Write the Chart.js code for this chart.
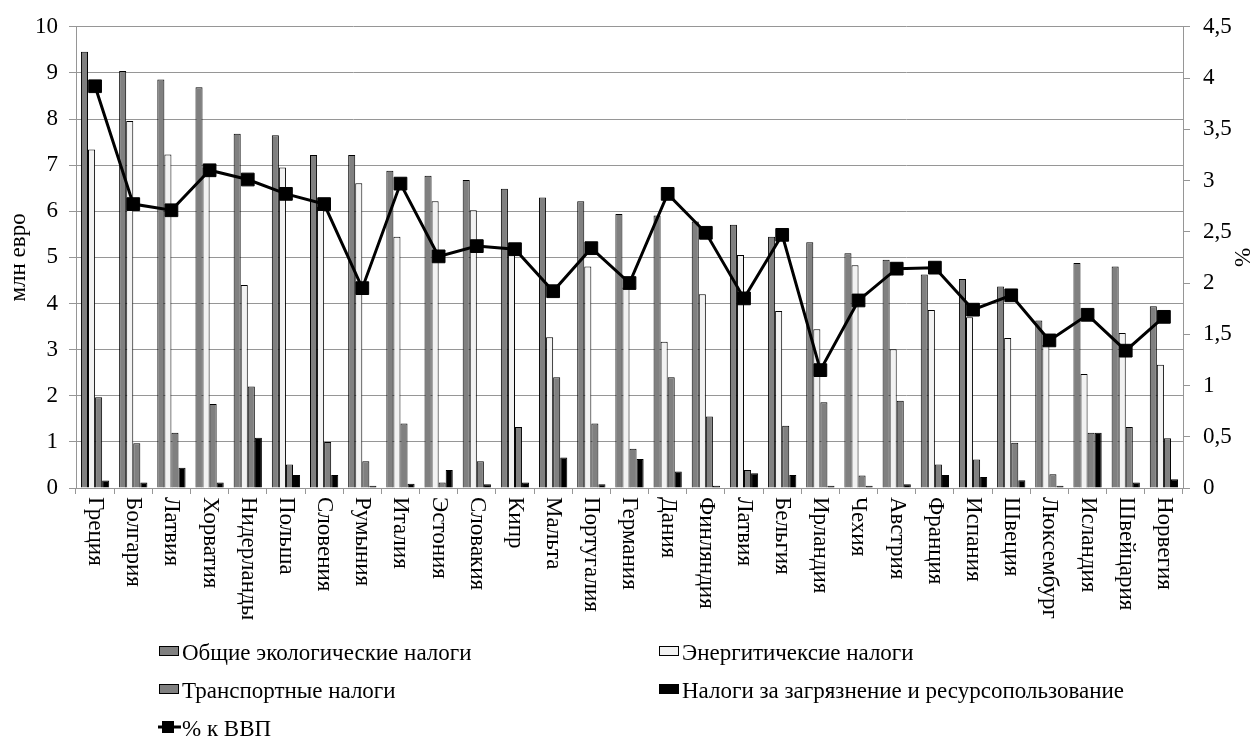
<!DOCTYPE html>
<html>
<head>
<meta charset="utf-8">
<script src="https://cdn.jsdelivr.net/npm/chart.js@4"></script>
<style>
  html, body { margin: 0; padding: 0; background: #fff; }
  #wrap { width: 1253px; height: 745px; }
</style>
</head>
<body>
<div id="wrap"><canvas id="c" width="1253" height="745"></canvas></div>
<script>
// Экологические налоги по странам (млн евро) и их доля к ВВП (%)
const countries = ['Греция', 'Болгария', 'Латвия', 'Хорватия', 'Нидерланды', 'Польша', 'Словения',
  'Румыния', 'Италия', 'Эстония', 'Словакия', 'Кипр', 'Мальта', 'Португалия', 'Германия', 'Дания',
  'Финляндия', 'Латвия', 'Бельгия', 'Ирландия', 'Чехия', 'Австрия', 'Франция', 'Испания', 'Швеция',
  'Люксембург', 'Исландия', 'Швейцария', 'Норвегия'];

const generalTaxes = [9.46, 9.04, 8.86, 8.69, 7.68, 7.65, 7.22, 7.22, 6.88, 6.77, 6.68, 6.49, 6.30, 6.22,
  5.94, 5.91, 5.78, 5.71, 5.45, 5.33, 5.09, 4.95, 4.63, 4.53, 4.37, 3.63, 4.88, 4.80, 3.94];
const energyTaxes = [7.34, 7.96, 7.23, 6.95, 4.40, 6.95, 6.10, 6.61, 5.45, 6.22, 6.02, 5.25, 3.27, 4.80,
  4.35, 3.17, 4.20, 5.05, 3.84, 3.44, 4.83, 3.01, 3.86, 3.70, 3.25, 3.10, 2.47, 3.36, 2.67];
const transportTaxes = [1.97, 0.97, 1.20, 1.82, 2.20, 0.51, 1.00, 0.58, 1.40, 0.12, 0.58, 1.32, 2.40, 1.40,
  0.85, 2.40, 1.55, 0.39, 1.35, 1.86, 0.27, 1.89, 0.51, 0.62, 0.98, 0.30, 1.20, 1.32, 1.08];
const pollutionTaxes = [0.16, 0.12, 0.44, 0.12, 1.09, 0.28, 0.28, 0.05, 0.09, 0.39, 0.08, 0.12, 0.66, 0.08,
  0.63, 0.36, 0.05, 0.32, 0.28, 0.05, 0.05, 0.08, 0.28, 0.24, 0.17, 0.05, 1.20, 0.12, 0.19];
const gdpShare = [3.92, 2.77, 2.71, 3.10, 3.01, 2.87, 2.77, 1.95, 2.97, 2.26, 2.36, 2.33, 1.92, 2.34,
  2.00, 2.87, 2.49, 1.85, 2.47, 1.15, 1.83, 2.14, 2.15, 1.74, 1.88, 1.44, 1.69, 1.34, 1.67];

const leftTicks = ['0', '1', '2', '3', '4', '5', '6', '7', '8', '9', '10'];
const rightTicks = ['0', '0,5', '1', '1,5', '2', '2,5', '3', '3,5', '4', '4,5'];

const FONT = 'Liberation Serif, Times New Roman, serif';
const GRID = '#969696';
const TEXT_SIZE = 23;

// Подписи категорий (повёрнуты по часовой стрелке) и легенда в нижней части
const extrasPlugin = {
  id: 'extras',
  afterDraw(chart) {
    const ctx = chart.ctx;
    const xs = chart.scales.x;
    ctx.save();
    ctx.fillStyle = '#000';
    ctx.font = TEXT_SIZE + 'px ' + FONT;
    ctx.textAlign = 'left';
    ctx.textBaseline = 'middle';
    countries.forEach((name, i) => {
      const x = xs.getPixelForTick(i);
      ctx.save();
      ctx.translate(x, xs.top + 9);
      ctx.rotate(Math.PI / 2);
      ctx.fillText(name, 0, 0);
      ctx.restore();
    });

    const ds = chart.data.datasets;
    const byLabel = l => ds.find(d => d.label === l);
    const items = [
      { d: byLabel('Общие экологические налоги'), x: 159, y: 651 },
      { d: byLabel('Энергитичексие налоги'), x: 659, y: 651 },
      { d: byLabel('Транспортные налоги'), x: 159, y: 689 },
      { d: byLabel('Налоги за загрязнение и ресурсопользование'), x: 659, y: 689 },
      { d: byLabel('% к ВВП'), x: 159, y: 727 }
    ];
    items.forEach(it => {
      const d = it.d;
      if (d.type === 'line') {
        ctx.strokeStyle = d.borderColor;
        ctx.lineWidth = 3;
        ctx.beginPath();
        ctx.moveTo(it.x - 1, it.y);
        ctx.lineTo(it.x + 22, it.y);
        ctx.stroke();
        ctx.fillStyle = d.pointBackgroundColor;
        ctx.fillRect(it.x + 3, it.y - 6, 12, 12);
      } else {
        ctx.fillStyle = d.backgroundColor;
        ctx.fillRect(it.x, it.y - 5, 19, 9);
        ctx.strokeStyle = '#000';
        ctx.lineWidth = 1;
        ctx.strokeRect(it.x + 0.5, it.y - 4.5, 19, 9);
      }
      ctx.fillStyle = '#000';
      ctx.textBaseline = 'middle';
      ctx.fillText(d.label, it.x + 23, it.y + 3);
    });
    ctx.restore();
  }
};

const barStyle = { borderColor: '#000', borderWidth: 1, borderSkipped: 'bottom', order: 1,
  yAxisID: 'y', categoryPercentage: 0.74, barPercentage: 1.0 };

new Chart(document.getElementById('c'), {
  type: 'bar',
  data: {
    labels: countries,
    datasets: [
      { type: 'line', label: '% к ВВП', data: gdpShare, yAxisID: 'y1', order: 0,
        borderColor: '#000', borderWidth: 3, tension: 0,
        pointStyle: 'rect', pointRadius: 9, pointBackgroundColor: '#000', pointBorderColor: '#000',
        pointBorderWidth: 1 },
      Object.assign({ label: 'Общие экологические налоги', data: generalTaxes, backgroundColor: '#808080' }, barStyle),
      Object.assign({ label: 'Энергитичексие налоги', data: energyTaxes, backgroundColor: '#f2f2f2' }, barStyle),
      Object.assign({ label: 'Транспортные налоги', data: transportTaxes, backgroundColor: '#808080' }, barStyle),
      Object.assign({ label: 'Налоги за загрязнение и ресурсопользование', data: pollutionTaxes, backgroundColor: '#000' }, barStyle)
    ]
  },
  options: {
    responsive: false,
    animation: false,
    devicePixelRatio: 1,
    layout: { padding: { top: 23, left: 0, right: 0, bottom: 0 }, autoPadding: false },
    plugins: { legend: { display: false }, tooltip: { enabled: false } },
    scales: {
      x: {
        offset: true,
        grid: { offset: true, drawOnChartArea: false, drawTicks: true, tickLength: 6, color: GRID },
        border: { color: GRID },
        ticks: { display: false },
        afterFit(s) { s.height = 257; }
      },
      y: {
        position: 'left', min: 0, max: 10,
        ticks: { stepSize: 1, padding: 11, color: '#000', font: { family: FONT, size: TEXT_SIZE },
          callback: (v, i) => leftTicks[i] },
        grid: { color: GRID, tickLength: 7 },
        border: { color: GRID },
        title: { display: true, text: 'млн евро', color: '#000',
          font: { family: FONT, size: TEXT_SIZE, lineHeight: 1 }, padding: { top: 7, bottom: 0 } },
        afterFit(s) { s.width = 76; }
      },
      y1: {
        position: 'right', min: 0, max: 4.5,
        ticks: { stepSize: 0.5, padding: 13, color: '#000', font: { family: FONT, size: TEXT_SIZE },
          callback: (v, i) => rightTicks[i] },
        grid: { drawOnChartArea: false, color: GRID, tickLength: 7 },
        border: { color: GRID },
        title: { display: true, text: '%', color: '#000',
          font: { family: FONT, size: TEXT_SIZE, lineHeight: 1 }, padding: { top: 0, bottom: 0 } },
        afterFit(s) { s.width = 70; }
      }
    }
  },
  plugins: [extrasPlugin]
});
</script>
</body>
</html>
